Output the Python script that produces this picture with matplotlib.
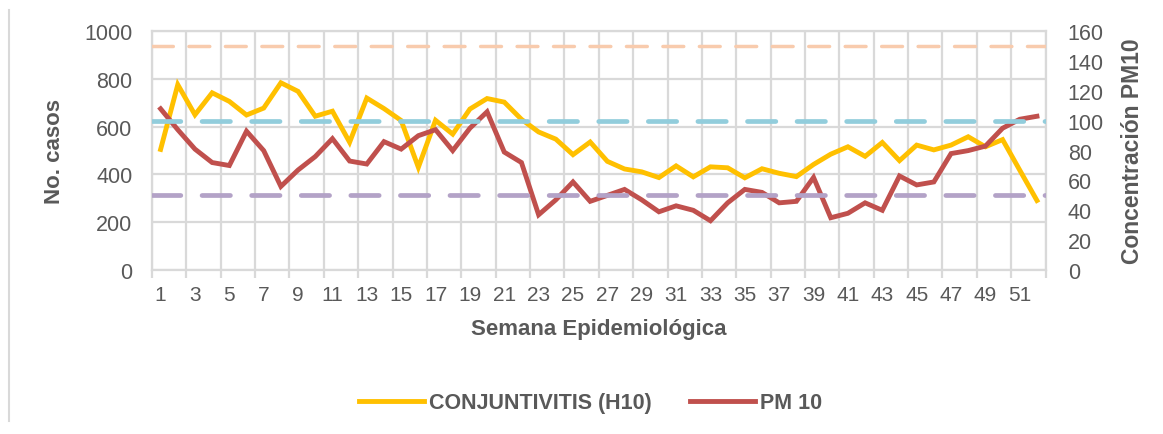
import matplotlib
matplotlib.use("Agg")
import matplotlib.pyplot as plt
from matplotlib.lines import Line2D
import numpy as np

# semanas epidemiologicas 1..52
weeks = list(range(1, 53))

# casos de conjuntivitis (eje izquierdo)
conjuntivitis = [
    505, 776, 650, 742, 706, 649, 678, 784, 748, 644,
    665, 535, 720, 676, 626, 430, 627, 569, 674, 718,
    703, 631, 578, 548, 483, 536, 455, 423, 411, 387,
    436, 390, 432, 428, 386, 424, 405, 391, 442, 485,
    516, 476, 534, 458, 523, 503, 523, 558, 516, 546,
    418, 291,
]

# concentracion PM10 (eje derecho)
pm10 = [
    108, 94, 81, 72, 70, 93, 80, 56, 67, 76,
    88, 73, 71, 86, 81, 90, 94, 80, 95, 106,
    79, 72, 37, 47, 59, 46, 50, 54, 47, 39,
    43, 40, 33, 45, 54, 52, 45, 46, 62, 35,
    38, 45, 40, 63, 57, 59, 78, 80, 83, 95,
    101, 103,
]

# limites de referencia PM10
ref_levels = [150, 100, 50]
ref_colors = ["#F8CBAD", "#92CDDC", "#B3A2C7"]

xtick_labels = [str(w) for w in range(1, 53, 2)]

GRAY = "#595959"
GRID = "#D9D9D9"

plt.rcParams["font.family"] = ["Liberation Sans", "DejaVu Sans"]
plt.rcParams["hatch.color"] = "#CFCFCF"
plt.rcParams["hatch.linewidth"] = 0.7

fig = plt.figure(figsize=(11.63, 4.35), dpi=100)
ax = fig.add_axes([0.1307, 0.377, 0.7683, 0.549])
ax.patch.set_facecolor("white")
ax.patch.set_hatch("\\\\\\\\\\")

ax.plot(weeks, conjuntivitis, color="#FFC000", lw=3.5, solid_joinstyle="miter", zorder=3)

ax.set_xlim(0.5, 52.5)
ax.set_ylim(0, 1000)
ax.set_yticks(range(0, 1001, 200))
ax.grid(axis="y", color=GRID, lw=1.6)
ax.set_xticks(np.arange(0.5, 53, 2), minor=True)
ax.grid(axis="x", which="minor", color=GRID, lw=1.6)
ax.set_xticks(range(1, 53, 2))
ax.set_xticklabels(xtick_labels)
ax.tick_params(axis="x", which="major", length=0, pad=11, labelsize=15, labelcolor=GRAY)
ax.tick_params(axis="x", which="minor", length=6, width=1.6, color=GRID)
ax.tick_params(axis="y", length=0, pad=14, labelsize=15.5, labelcolor=GRAY)
for s in ax.spines.values():
    s.set_color(GRID)
    s.set_linewidth(1.6)
ax.set_axisbelow(True)

ax.set_ylabel("No. casos", fontsize=16, fontweight="bold", color=GRAY, labelpad=14)
ax.set_xlabel("Semana Epidemiológica", fontsize=16, fontweight="bold", color=GRAY, labelpad=10)

ax2 = ax.twinx()
ax2.plot(weeks, pm10, color="#C0504D", lw=3.5, solid_joinstyle="miter", zorder=3)
for lvl, c in zip(ref_levels, ref_colors):
    lw = 2.5 if lvl == 150 else 3.4
    ax2.axhline(lvl, color=c, lw=lw, ls=(0, (6, 4.5)), dash_capstyle="round", zorder=4)
ax2.set_ylim(0, 160)
ax2.set_yticks(range(0, 161, 20))
ax2.tick_params(axis="y", length=0, pad=16, labelsize=15.5, labelcolor=GRAY)
for s in ax2.spines.values():
    s.set_visible(False)
ax2.set_ylabel("Concentración PM10", fontsize=16.5, fontweight="bold", color=GRAY, labelpad=12)

handles = [
    Line2D([0], [0], color="#FFC000", lw=3.5),
    Line2D([0], [0], color="#C0504D", lw=3.5),
]
leg = fig.legend(handles, ["CONJUNTIVITIS (H10)", "PM 10"], loc="center",
                 bbox_to_anchor=(0.508, 0.072), ncol=2, frameon=False,
                 handlelength=3.0, handletextpad=0.25, columnspacing=1.8,
                 prop={"size": 15.5, "weight": "bold"})
for t in leg.get_texts():
    t.set_color(GRAY)

# borde izquierdo del grafico
fig.add_artist(Line2D([0.0075, 0.0075], [0.03, 0.975], transform=fig.transFigure,
                      color=GRID, lw=1.5))

fig.savefig("out.png", dpi=100)
